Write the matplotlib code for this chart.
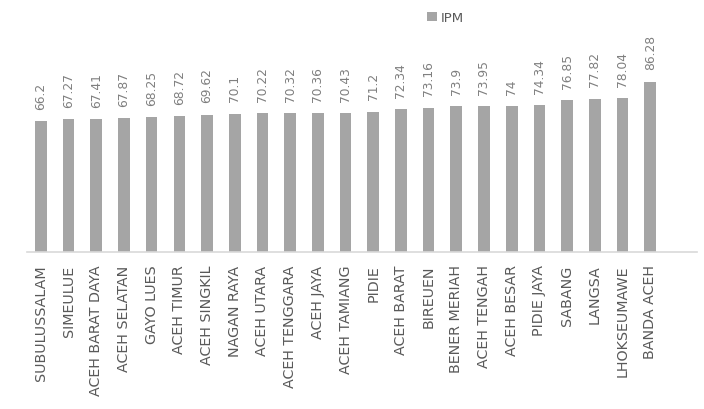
import matplotlib.pyplot as plt
import numpy as np

regions = ["SUBULUSSALAM", "SIMEULUE", "ACEH BARAT DAYA", "ACEH SELATAN", "GAYO LUES",
           "ACEH TIMUR", "ACEH SINGKIL", "NAGAN RAYA", "ACEH UTARA", "ACEH TENGGARA",
           "ACEH JAYA", "ACEH TAMIANG", "PIDIE", "ACEH BARAT", "BIREUEN",
           "BENER MERIAH", "ACEH TENGAH", "ACEH BESAR", "PIDIE JAYA", "SABANG",
           "LANGSA", "LHOKSEUMAWE", "BANDA ACEH"]
ipm = [66.2, 67.27, 67.41, 67.87, 68.25, 68.72, 69.62, 70.1, 70.22, 70.32,
       70.36, 70.43, 71.2, 72.34, 73.16, 73.9, 73.95, 74, 74.34, 76.85,
       77.82, 78.04, 86.28]
ipm_labels = ["66.2", "67.27", "67.41", "67.87", "68.25", "68.72", "69.62", "70.1",
              "70.22", "70.32", "70.36", "70.43", "71.2", "72.34", "73.16", "73.9",
              "73.95", "74", "74.34", "76.85", "77.82", "78.04", "86.28"]

fig = plt.figure(figsize=(7.04, 4.10), dpi=100)
ax = fig.add_axes([0.0384, 0.383, 0.952, 0.481])

x = np.arange(len(regions))
ax.bar(x, ipm, width=0.42, color="#A5A5A5", label="IPM")

# value labels above bars
for xi, v, lab in zip(x, ipm, ipm_labels):
    ax.annotate(lab, (xi, v), xytext=(0, 9), textcoords="offset points",
                rotation=90, ha="center", va="bottom", fontsize=8.8, color="#7F7F7F")

ax.set_xlim(-0.5, 23.7)
ax.set_ylim(0, 100)
ax.set_xticks(x)
ax.set_xticklabels(regions, rotation=90, fontsize=10.3, color="#595959")
ax.tick_params(axis="x", length=0, pad=9)
ax.set_yticks([])
for s in ["top", "right", "left"]:
    ax.spines[s].set_visible(False)
ax.spines["bottom"].set_color("#D9D9D9")
ax.spines["bottom"].set_linewidth(1.2)

fig.legend(loc="center", bbox_to_anchor=(0.633, 0.955), frameon=False, fontsize=9.5,
           labelcolor="#595959", handlelength=0.7, handleheight=0.7, handletextpad=0.3)

fig.savefig("out.png", dpi=100)
